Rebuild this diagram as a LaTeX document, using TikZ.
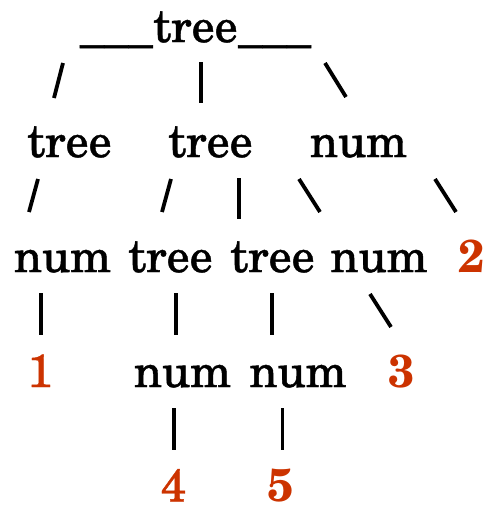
\documentclass[tikz,border=0pt]{standalone}
\usepackage{fontspec}
\setmainfont{texgyreschola}[Extension=.otf, UprightFont=*-regular, BoldFont=*-bold, ItalicFont=*-italic, BoldItalicFont=*-bolditalic]
\newfontfamily\heavyfont{texgyreschola}[Extension=.otf, UprightFont=*-regular, BoldFont=*-bold, FakeBold=0.9]
\definecolor{numred}{RGB}{204,51,0}
\begin{document}
\begin{tikzpicture}[x=1pt,y=-1pt,
  word/.style={anchor=base, inner sep=0pt, font=\fontsize{46}{55}\selectfont\heavyfont},
  leaf/.style={word, text=numred},
  leafb/.style={leaf, font=\fontsize{46}{55}\selectfont\bfseries},
  link/.style={line width=3.8pt}]
\useasboundingbox (0,0) rectangle (487,506);
% row 1
\node[word] (r) at (195.5,42) {tree};
\node[word, anchor=base east] (ul) at (r.base west) {\scalebox{1.06}[1]{\_\_\_}};
\node[word, anchor=base west] (ur) at (r.base east) {\scalebox{1.06}[1]{\_\_\_}};
% row 3
\node[word] (t1) at (69.5,157) {tree};
\node[word] (t2) at (210.5,157) {tree};
\node[word] (n1) at (358.5,157) {num};
% row 5
\node[word] (n2) at (62.5,272) {num};
\node[word] (t3) at (170.5,272) {tree};
\node[word] (t4) at (272.5,272) {tree};
\node[word] (n3) at (379,272) {num};
\node[leafb] (d2) at (471.5,272) {2};
% row 7
\node[leaf] (d1) at (40,387) {1};
\node[word] (n4) at (182.5,387) {num};
\node[word] (n5) at (298,387) {num};
\node[leafb] (d3) at (401.5,387) {3};
% row 9
\node[leaf] (d4) at (173.5,501.5) {4};
\node[leafb] (d5) at (281,501.5) {5};
% stroke end points
\coordinate (s1a) at (63,63);   \coordinate (s1b) at (54,98);
\coordinate (s2a) at (201,62);  \coordinate (s2b) at (201,103);
\coordinate (s3a) at (325,63);  \coordinate (s3b) at (346,97);
\coordinate (s4a) at (38,179);  \coordinate (s4b) at (29,212);
\coordinate (s5a) at (171,179); \coordinate (s5b) at (162,212);
\coordinate (s6a) at (239,178); \coordinate (s6b) at (239,219);
\coordinate (s7a) at (299,179); \coordinate (s7b) at (320,212);
\coordinate (s8a) at (435,179); \coordinate (s8b) at (456,212);
\coordinate (s9a) at (41,293);  \coordinate (s9b) at (41,335);
\coordinate (s10a) at (176,293); \coordinate (s10b) at (176,335);
\coordinate (s11a) at (272,293); \coordinate (s11b) at (272,335);
\coordinate (s12a) at (370,294); \coordinate (s12b) at (391,327);
\coordinate (s13a) at (174,408); \coordinate (s13b) at (174,450);
\coordinate (s14a) at (282.5,408); \coordinate (s14b) at (282.5,450);
\foreach \i in {1,...,14} {\draw[link] (s\i a) -- (s\i b);}
\end{tikzpicture}
\end{document}
